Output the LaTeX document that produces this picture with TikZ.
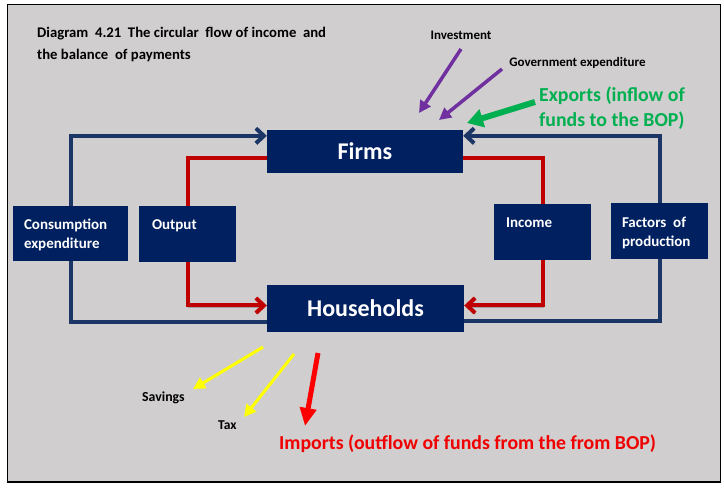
\documentclass[tikz,border=0pt]{standalone}
\usepackage{fontspec}
\setmainfont{Carlito}
\usetikzlibrary{arrows.meta}
\definecolor{bg}{HTML}{D0CECE}
\definecolor{navy}{HTML}{002060}
\definecolor{lineblue}{HTML}{1B3566}
\definecolor{linered}{HTML}{C00000}
\definecolor{purp}{HTML}{7030A0}
\definecolor{grn}{HTML}{00B050}
\definecolor{yel}{HTML}{FFFF00}
\definecolor{impred}{HTML}{F00000}
\newcommand{\fsz}[2]{\fontsize{#1}{#2}\selectfont\bfseries}
\begin{document}
\begin{tikzpicture}[x=1pt,y=-1pt,
  box/.style={fill=navy, draw=none, inner sep=0pt, text=white},
  lbl/.style={anchor=north west, inner sep=0pt, align=left, text=white, font=\fsz{15}{19}},
  plain/.style={inner sep=0pt, text=black},
  shad/.style={preaction={draw=black, opacity=0.22, transform canvas={shift={(1pt,-1.5pt)}}}},
  bline/.style={draw=lineblue, line width=4pt, shad},
  rline/.style={draw=linered, line width=4pt, shad},
  bflow/.style={bline, -{Straight Barb[length=8pt,width=15pt]}},
  rflow/.style={rline, -{Straight Barb[length=8pt,width=15pt]}},
  parrow/.style={draw=purp, line width=3.5pt, -{Triangle[length=12pt,width=12pt]}},
  yarrow/.style={draw=yel, line width=3pt, -{Triangle[length=12pt,width=12pt]}},
  garrow/.style={draw=grn, line width=6pt, -{Triangle[length=16pt,width=18pt]}},
  redarrow/.style={draw=red, line width=5pt, -{Triangle[length=18pt,width=16pt]}}
]
\useasboundingbox (0,0) rectangle (724,492);
\fill[white] (0,0) rectangle (724,492);
\draw[fill=bg, line width=1.5pt] (7.5,4.5) rectangle (720.5,482);

% title
\node[plain, anchor=north west, align=left, font=\fsz{14.7}{22}] (title) at (37,27)
  {Diagram\ \ 4.21\ \ The circular\ \ flow of income\ \ and\\the balance\ \ of payments};

% main boxes
\node[box, minimum width=196pt, minimum height=43pt, font=\fsz{24}{28}] (firms) at (365,151.5) {Firms};
\node[box, minimum width=197pt, minimum height=47pt, font=\fsz{24}{28}] (hh) at (365.5,308.5) {Households};
\node[box, minimum width=115pt, minimum height=55pt] (cons) at (70.5,233.5) {};
\node[box, minimum width=97pt, minimum height=56pt] (out) at (187.5,234) {};
\node[box, minimum width=97pt, minimum height=56pt] (inc) at (542.5,232) {};
\node[box, minimum width=97pt, minimum height=56pt] (fac) at (659.5,231) {};

\node[lbl] (consl) at ([shift={(11,13)}]cons.north west) {Consumption\\expenditure};
\node[lbl] (outl) at ([shift={(13,14)}]out.north west) {Output};
\node[lbl] (incl) at ([shift={(12,14)}]inc.north west) {Income};
\node[lbl] (facl) at ([shift={(11,14)}]fac.north west) {Factors\ \ of\\production};

% circular flow connectors
\draw[bflow] (cons.north) |- ([yshift=-6pt]firms.north west);
\draw[bline] (cons.south) |- ([yshift=10pt]hh.south west);
\draw[rline] (out.north) |- ([yshift=15pt]firms.south west);
\draw[rflow] (out.south) |- ([yshift=3pt]hh.west);
\draw[rline] ([yshift=15pt]firms.south east) -| (inc.north);
\draw[rflow] (inc.south) |- ([yshift=3pt]hh.east);
\draw[bline] ([yshift=11pt]hh.south east) -| (fac.south);
\draw[bflow] (fac.north) |- ([yshift=-6pt]firms.north east);

% injections
\node[plain, font=\fsz{13}{15}] (inv) at (461,35) {Investment};
\node[plain, font=\fsz{13}{15}] (gov) at (577.5,63) {Government expenditure};
\node[plain, anchor=west, align=left, text=grn, font=\fsz{19.8}{25}] (exp) at (539,108)
  {Exports (inflow of\\funds to the BOP)};
\coordinate (invS) at (461,49);
\coordinate (invT) at (419,113);
\coordinate (govS) at (502,69);
\coordinate (govT) at (439,120);
\coordinate (expS) at (535,102);
\coordinate (expT) at (467,123);
\draw[parrow] (invS) -- (invT);
\draw[parrow] (govS) -- (govT);
\draw[garrow] (expS) -- (expT);

% withdrawals
\node[plain, anchor=west, font=\fsz{13.8}{16}] (sav) at (142,398) {Savings};
\node[plain, anchor=west, font=\fsz{13.5}{16}] (tax) at (218,425) {Tax};
\node[plain, anchor=west, text=impred, font=\fsz{19.8}{22}] (imp) at (279,444)
  {Imports (outflow of funds from the from BOP)};
\coordinate (savS) at (263,347);
\coordinate (savT) at (193,389);
\coordinate (taxS) at (294,354);
\coordinate (taxT) at (244,417);
\coordinate (impS) at (318,353);
\coordinate (impT) at (305,426);
\draw[yarrow] (savS) -- (savT);
\draw[yarrow] (taxS) -- (taxT);
\draw[redarrow] (impS) -- (impT);
\end{tikzpicture}
\end{document}
